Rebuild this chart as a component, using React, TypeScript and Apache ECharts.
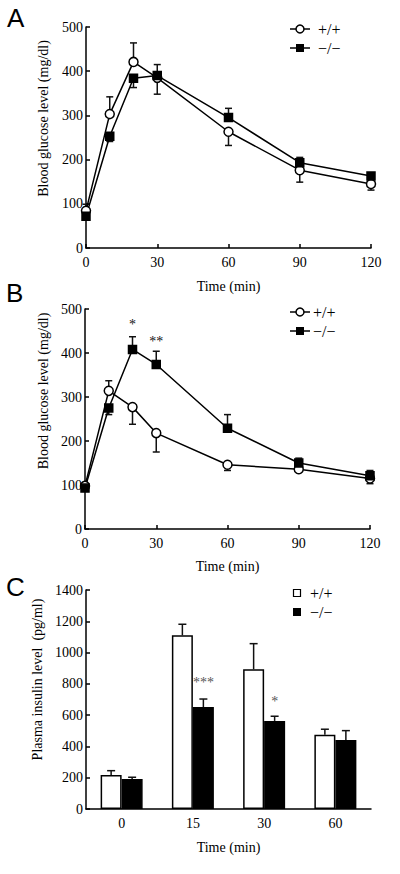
import React, { useEffect, useRef } from "react";
import * as echarts from "echarts";

// ---------- data ----------
const TIMES = [0, 10, 20, 30, 60, 90, 120];

// Panel A
const A_WT = [84, 303, 421, 385, 263, 176, 145];
const A_WT_SEM = [15, 39, 43, 37, 31, 27, 14];
const A_WT_DIR = [1, 1, 1, -1, -1, -1, -1];
const A_KO = [72, 253, 384, 390, 295, 193, 163];
const A_KO_SEM = [8, 12, 21, 25, 21, 12, 6];
const A_KO_DIR = [1, -1, -1, 1, 1, 1, 1];

// Panel B
const B_WT = [98, 314, 277, 218, 146, 136, 115];
const B_WT_SEM = [5, 23, 39, 43, 13, 6, 12];
const B_WT_DIR = [1, 1, -1, -1, -1, -1, -1];
const B_KO = [93, 275, 408, 374, 229, 150, 121];
const B_KO_SEM = [5, 15, 29, 30, 31, 11, 12];
const B_KO_DIR = [-1, -1, 1, 1, 1, 1, 1];
const B_STARS: [number, number, string][] = [
  [20, 464, "*"],
  [30, 427, "**"],
];

// Panel C
const C_CATS = ["0", "15", "30", "60"];
const C_WT = [217, 1110, 893, 475];
const C_WT_SEM = [28, 71, 164, 35];
const C_KO = [192, 652, 563, 441];
const C_KO_SEM = [11, 51, 30, 60];
const C_STARS: [number, number, string][] = [
  [1, 806, "***"],
  [2, 690, "*"],
];

const LEGEND_WT = "+/+";
const LEGEND_KO = "\u2212/\u2212";
const X_NAME = "Time (min)";
const Y_NAME_AB = "Blood glucose level (mg/dl)";
const Y_NAME_C = "Plasma insulin level  (pg/ml)";

// ---------- styles ----------
const SERIF = "Liberation Serif";
const BAR_W = 21;

const axisLine = { show: true, lineStyle: { color: "#000", width: 1.5 } };
const axisTick = { show: true, inside: true, length: 4, lineStyle: { color: "#000", width: 1.5 } };

function xValueAxis(gi: number, gap: number) {
  return {
    type: "value",
    gridIndex: gi,
    min: 0,
    max: 120,
    interval: 30,
    axisLine,
    axisTick,
    splitLine: { show: false },
    axisLabel: { color: "#000", fontFamily: SERIF, fontSize: 14, margin: 7, formatter: (v: number) => String(v) },
    name: X_NAME,
    nameLocation: "middle",
    nameGap: gap,
    nameTextStyle: { color: "#000", fontFamily: SERIF, fontSize: 14 },
  };
}

function yAxis(gi: number, max: number, interval: number, name: string, gap: number, shift: number) {
  return {
    type: "value",
    gridIndex: gi,
    min: 0,
    max,
    interval,
    axisLine,
    axisTick,
    splitLine: { show: false },
    axisLabel: { color: "#000", fontFamily: SERIF, fontSize: 14, margin: 3, formatter: (v: number) => String(v) },
    name,
    nameLocation: "middle",
    nameGap: gap,
    nameTextStyle: { color: "#000", fontFamily: SERIF, fontSize: 14, padding: [0, 0, 0, shift] },
  };
}

function lineSeries(gi: number, name: string, vals: number[], ko: boolean) {
  return {
    type: "line",
    name,
    xAxisIndex: gi,
    yAxisIndex: gi,
    z: 3,
    data: TIMES.map((t, i) => [t, vals[i]]),
    symbol: ko ? "rect" : "circle",
    symbolSize: ko ? 8 : 9,
    itemStyle: { color: ko ? "#000" : "#fff", borderColor: "#000", borderWidth: 1.5 },
    lineStyle: { color: "#000", width: 1.5 },
  };
}

function lineErr(gi: number, vals: number[], sem: number[], dir: number[]) {
  return {
    type: "custom",
    xAxisIndex: gi,
    yAxisIndex: gi,
    z: 1,
    silent: true,
    encode: { x: 0, y: [1, 2] },
    data: TIMES.map((t, i) => [t, vals[i], vals[i] + dir[i] * sem[i]]),
    renderItem: (params: any, api: any) => {
      const p0 = api.coord([api.value(0), api.value(1)]);
      const p1 = api.coord([api.value(0), api.value(2)]);
      const st = { stroke: "#111", lineWidth: 1.5 };
      return {
        type: "group",
        children: [
          { type: "line", shape: { x1: p0[0], y1: p0[1], x2: p1[0], y2: p1[1] }, style: st },
          { type: "line", shape: { x1: p1[0] - 3.5, y1: p1[1], x2: p1[0] + 3.5, y2: p1[1] }, style: st },
        ],
      };
    },
  };
}

function barErr(vals: number[], sem: number[], offset: number) {
  return {
    type: "custom",
    xAxisIndex: 2,
    yAxisIndex: 2,
    z: 4,
    silent: true,
    encode: { x: 0, y: [1, 2] },
    data: vals.map((v, i) => [i, v, v + sem[i]]),
    renderItem: (params: any, api: any) => {
      const p0 = api.coord([api.value(0), api.value(1)]);
      const p1 = api.coord([api.value(0), api.value(2)]);
      const x = p0[0] + offset;
      const st = { stroke: "#111", lineWidth: 1.5 };
      return {
        type: "group",
        children: [
          { type: "line", shape: { x1: x, y1: p0[1], x2: x, y2: p1[1] }, style: st },
          { type: "line", shape: { x1: x - 4, y1: p1[1], x2: x + 4, y2: p1[1] }, style: st },
        ],
      };
    },
  };
}

function starSeries(gi: number, data: [number, number, string][], dx: number, color: string) {
  return {
    type: "custom",
    xAxisIndex: gi,
    yAxisIndex: gi,
    z: 5,
    silent: true,
    encode: { x: 0, y: 1 },
    data,
    renderItem: (params: any, api: any) => {
      const p = api.coord([api.value(0), api.value(1)]);
      const item = data[params.dataIndex];
      return {
        type: "text",
        x: p[0] + dx,
        y: p[1],
        style: {
          text: item[2],
          fill: color,
          font: `14px '${SERIF}'`,
          textAlign: "center",
          textVerticalAlign: "middle",
        },
      };
    },
  };
}

function letter(t: string, x: number, y: number) {
  return {
    type: "text",
    x,
    y,
    style: { text: t, font: "26px 'Liberation Sans'", fill: "#000", textAlign: "left", textVerticalAlign: "middle" },
  };
}

function legendText(t: string, x: number, y: number) {
  return {
    type: "text",
    x,
    y,
    style: { text: t, font: `16px '${SERIF}'`, fill: "#000", textAlign: "left", textVerticalAlign: "middle" },
  };
}

function lineLegend(x: number, y1: number, y2: number, tx: number) {
  const st = { stroke: "#000", lineWidth: 1.5 };
  return [
    { type: "line", shape: { x1: x - 10, y1, x2: x + 10, y2: y1 }, style: st },
    { type: "circle", shape: { cx: x, cy: y1, r: 4 }, style: { fill: "#fff", stroke: "#000", lineWidth: 1.5 } },
    legendText(LEGEND_WT, tx, y1),
    { type: "line", shape: { x1: x - 10, y1: y2, x2: x + 10, y2 }, style: st },
    { type: "rect", shape: { x: x - 4, y: y2 - 4, width: 8, height: 8 }, style: { fill: "#000" } },
    legendText(LEGEND_KO, tx, y2),
  ];
}

export default function App() {
  const ref = useRef<HTMLDivElement>(null);
  useEffect(() => {
    if (!ref.current) return;
    const chart = echarts.init(ref.current, null, { renderer: "svg" });
    chart.setOption({
      animation: false,
      backgroundColor: "#fff",
      grid: [
        { left: 86, top: 27, width: 285, height: 221 },
        { left: 85, top: 309, width: 285, height: 220 },
        { left: 86, top: 590, width: 285, height: 219 },
      ],
      xAxis: [
        xValueAxis(0, 31),
        xValueAxis(1, 30),
        {
          type: "category",
          gridIndex: 2,
          data: C_CATS,
          axisLine,
          axisTick: { show: false },
          axisLabel: { color: "#000", fontFamily: SERIF, fontSize: 14, margin: 7 },
          name: X_NAME,
          nameLocation: "middle",
          nameGap: 31,
          nameTextStyle: { color: "#000", fontFamily: SERIF, fontSize: 14 },
        },
      ],
      yAxis: [
        yAxis(0, 500, 100, Y_NAME_AB, 36, 38),
        yAxis(1, 500, 100, Y_NAME_AB, 33, 56),
        yAxis(2, 1400, 200, Y_NAME_C, 36, 40),
      ],
      series: [
        lineErr(0, A_WT, A_WT_SEM, A_WT_DIR),
        lineErr(0, A_KO, A_KO_SEM, A_KO_DIR),
        lineSeries(0, LEGEND_WT, A_WT, false),
        lineSeries(0, LEGEND_KO, A_KO, true),
        lineErr(1, B_WT, B_WT_SEM, B_WT_DIR),
        lineErr(1, B_KO, B_KO_SEM, B_KO_DIR),
        lineSeries(1, LEGEND_WT, B_WT, false),
        lineSeries(1, LEGEND_KO, B_KO, true),
        starSeries(1, B_STARS, 0, "#111"),
        {
          type: "bar",
          name: LEGEND_WT,
          xAxisIndex: 2,
          yAxisIndex: 2,
          data: C_WT,
          barWidth: BAR_W,
          barGap: "0%",
          itemStyle: { color: "#fff", borderColor: "#000", borderWidth: 1.5 },
        },
        {
          type: "bar",
          name: LEGEND_KO,
          xAxisIndex: 2,
          yAxisIndex: 2,
          data: C_KO,
          barWidth: BAR_W,
          barGap: "0%",
          itemStyle: { color: "#000", borderColor: "#000", borderWidth: 1.5 },
        },
        barErr(C_WT, C_WT_SEM, -BAR_W / 2),
        barErr(C_KO, C_KO_SEM, BAR_W / 2),
        starSeries(2, C_STARS, BAR_W / 2, "#555"),
      ],
      graphic: [
        letter("A", 7, 18),
        letter("B", 6, 293),
        letter("C", 6, 587),
        ...lineLegend(300, 29, 48, 318),
        ...lineLegend(300, 312, 331, 313),
        { type: "rect", shape: { x: 293.5, y: 589.5, width: 7, height: 7 }, style: { fill: "#fff", stroke: "#000", lineWidth: 1.2 } },
        legendText(LEGEND_WT, 310, 593),
        { type: "rect", shape: { x: 293, y: 608, width: 8, height: 8 }, style: { fill: "#000" } },
        legendText(LEGEND_KO, 310, 612),
      ],
    });
    return () => chart.dispose();
  }, []);
  return (
    <div
      ref={ref}
      style={{ position: "absolute", left: 0, top: 0, width: 400, height: 874, background: "#fff" }}
    />
  );
}
